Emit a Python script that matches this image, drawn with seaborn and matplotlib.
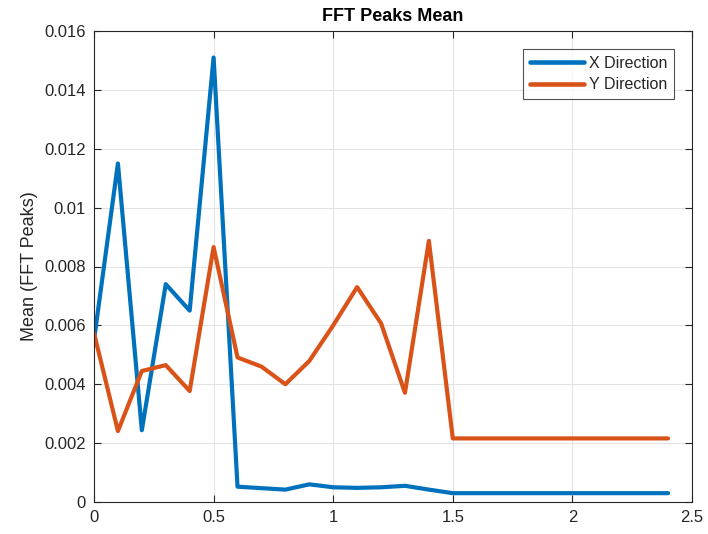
import numpy as np
import pandas as pd
import matplotlib
matplotlib.use("Agg")
import matplotlib.pyplot as plt
import seaborn as sns

freq = [0.0, 0.1, 0.2, 0.3, 0.4, 0.5, 0.6, 0.7, 0.8, 0.9, 1.0, 1.1, 1.2,
        1.3, 1.4, 1.5, 1.6, 1.7, 1.8, 1.9, 2.0, 2.1, 2.2, 2.3, 2.4]
x_dir = [0.0055, 0.0115, 0.00244, 0.0074, 0.0065, 0.0151, 0.00052, 0.00047,
         0.00042, 0.0006, 0.0005, 0.00048, 0.0005, 0.00055, 0.00042, 0.0003,
         0.0003, 0.0003, 0.0003, 0.0003, 0.0003, 0.0003, 0.0003, 0.0003, 0.0003]
y_dir = [0.00574, 0.00241, 0.00445, 0.00465, 0.00377, 0.00866, 0.00491, 0.0046,
         0.0040, 0.00479, 0.0060, 0.0073, 0.00607, 0.00371, 0.00887, 0.00216,
         0.00216, 0.00216, 0.00216, 0.00216, 0.00216, 0.00216, 0.00216, 0.00216, 0.00216]
series_names = ["X Direction", "Y Direction"]
xticks = [0, 0.5, 1, 1.5, 2, 2.5]
xtick_labels = ["0", "0.5", "1", "1.5", "2", "2.5"]
yticks = [0, 0.002, 0.004, 0.006, 0.008, 0.01, 0.012, 0.014, 0.016]
ytick_labels = ["0", "0.002", "0.004", "0.006", "0.008", "0.01", "0.012", "0.014", "0.016"]

df = pd.DataFrame({
    "freq": freq * 2,
    "value": x_dir + y_dir,
    "series": [series_names[0]] * len(freq) + [series_names[1]] * len(freq),
})

sns.set_theme(style="white")
plt.rcParams["font.family"] = ["Liberation Sans", "DejaVu Sans"]

fig = plt.figure(figsize=(7.08, 5.34), dpi=100)
ax = fig.add_axes([94 / 708, 1 - 502 / 534, (692 - 94) / 708, (502 - 31) / 534])

sns.lineplot(data=df, x="freq", y="value", hue="series",
             palette=["#0072BD", "#D95319"], linewidth=3, ax=ax)

ax.set_xlim(0, 2.5)
ax.set_ylim(0, 0.016)
ax.set_xticks(xticks)
ax.set_xticklabels(xtick_labels)
ax.set_yticks(yticks)
ax.set_yticklabels(ytick_labels)
ax.grid(True, color="#e3e3e3", linewidth=0.8)
ax.set_axisbelow(True)
for s in ax.spines.values():
    s.set_color("#262626")
    s.set_linewidth(0.8)
    s.set_visible(True)
ax.tick_params(direction="in", length=5, width=0.8, colors="#262626",
               labelsize=12, top=True, right=True, bottom=True, left=True,
               labelcolor="#262626", pad=6)

ax.set_xlabel("")
ax.set_ylabel("Mean (FFT Peaks)", fontsize=13, color="#262626")
ax.set_title("FFT Peaks Mean", fontsize=13, fontweight="bold", color="black", pad=7)

leg = ax.legend(loc="upper right", fontsize=11.5, frameon=True, fancybox=False,
                edgecolor="#262626", borderaxespad=1.1, handlelength=3.4,
                handletextpad=0.3, borderpad=0.45, labelspacing=0.4)
leg.get_frame().set_linewidth(0.8)
for line in leg.get_lines():
    line.set_linewidth(3.3)

fig.savefig("out.png", dpi=100)
